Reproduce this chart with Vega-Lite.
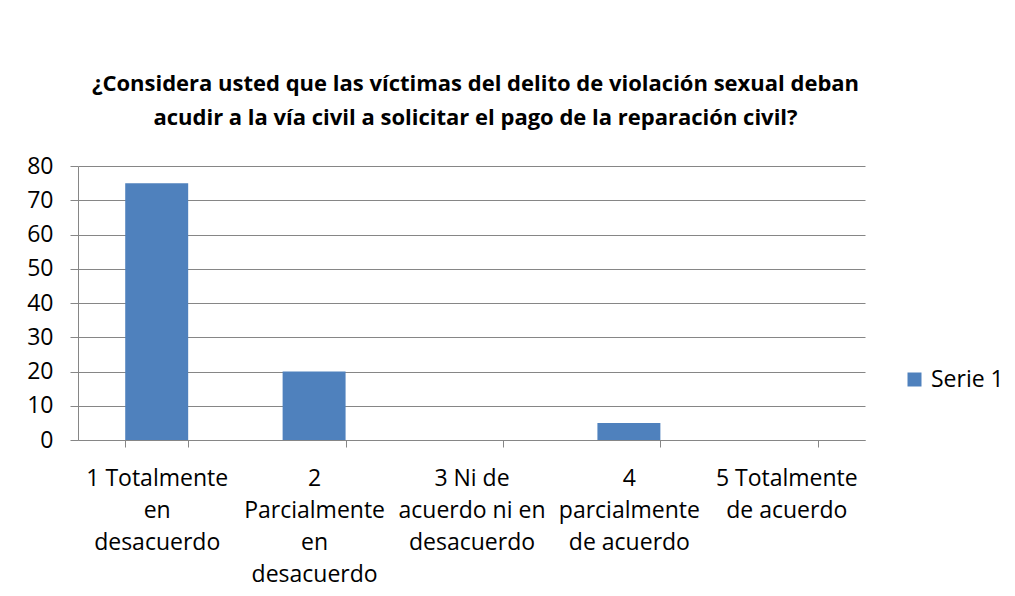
{
  "$schema": "https://vega.github.io/schema/vega-lite/v6.json",
  "width": 787,
  "height": 274,
  "autosize": {"type": "none"},
  "padding": {"left": 78, "top": 166, "right": 150, "bottom": 156},
  "background": "white",
  "title": {
    "text": ["¿Considera usted que las víctimas del delito de violación sexual deban", "acudir a la vía civil a solicitar el pago de la reparación civil?"],
    "font": "Open Sans",
    "fontSize": 22,
    "fontWeight": "bold",
    "color": "#000000",
    "anchor": "middle",
    "frame": "group",
    "lineHeight": 34,
    "offset": 25,
    "dx": 4
  },
  "data": {
    "values": [
      {"categoria": "1 Totalmente|en|desacuerdo", "valor": 75, "serie": "Serie 1"},
      {"categoria": "2|Parcialmente|en|desacuerdo", "valor": 20, "serie": "Serie 1"},
      {"categoria": "3 Ni de|acuerdo ni en|desacuerdo", "valor": 0, "serie": "Serie 1"},
      {"categoria": "4|parcialmente|de acuerdo", "valor": 5, "serie": "Serie 1"},
      {"categoria": "5 Totalmente|de acuerdo", "valor": 0, "serie": "Serie 1"}
    ]
  },
  "mark": {"type": "bar"},
  "encoding": {
    "x": {
      "field": "categoria",
      "type": "nominal",
      "sort": null,
      "scale": {"paddingInner": 0.6, "paddingOuter": 0.3},
      "axis": {
        "title": null,
        "labelAngle": 0,
        "labelExpr": "isString(datum.value) ? split(datum.value, '|') : ''",
        "labelFont": "Open Sans",
        "labelFontSize": 23,
        "labelColor": "#000000",
        "labelLineHeight": 32,
        "labelPadding": 20,
        "labelBaseline": "top",
        "tickBand": "extent",
        "tickSize": 7,
        "tickColor": "#868686",
        "domainColor": "#868686",
        "labelLimit": 0
      }
    },
    "y": {
      "field": "valor",
      "type": "quantitative",
      "scale": {"domain": [0, 80]},
      "axis": {
        "title": null,
        "values": [0, 10, 20, 30, 40, 50, 60, 70, 80],
        "labelFont": "Open Sans",
        "labelFontSize": 23,
        "labelColor": "#000000",
        "labelPadding": 17,
        "tickSize": 8,
        "tickColor": "#868686",
        "domainColor": "#868686",
        "gridColor": "#868686",
        "gridOpacity": 1
      }
    },
    "color": {
      "field": "serie",
      "type": "nominal",
      "scale": {"range": ["#4F81BD"]},
      "legend": {
        "title": null,
        "orient": "none",
        "legendX": 825,
        "legendY": 202,
        "symbolType": "square",
        "symbolSize": 196,
        "symbolStrokeWidth": 0,
        "labelFont": "Open Sans",
        "labelFontSize": 23,
        "labelColor": "#000000",
        "labelOffset": 5
      }
    }
  },
  "config": {
    "view": {"stroke": null},
    "axis": {"domainWidth": 1, "gridWidth": 1}
  }
}
